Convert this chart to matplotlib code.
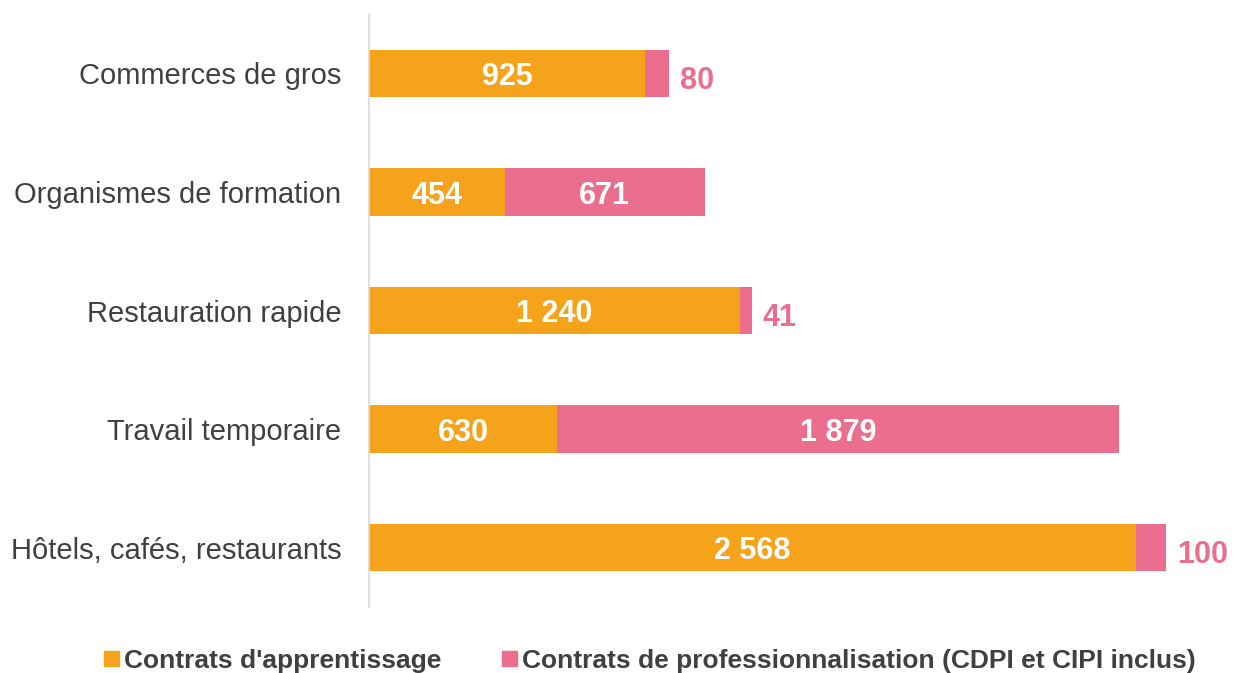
import matplotlib
matplotlib.use("Agg")
import matplotlib.pyplot as plt
from matplotlib.patches import Patch

plt.rcParams['font.family'] = ['Liberation Sans', 'DejaVu Sans']

# données (du bas vers le haut)
categories = ["Hôtels, cafés, restaurants", "Travail temporaire", "Restauration rapide",
              "Organismes de formation", "Commerces de gros"]
apprentissage = [2568, 630, 1240, 454, 925]
professionnalisation = [100, 1879, 41, 671, 80]
labels_app = ["2 568", "630", "1 240", "454", "925"]
labels_pro = ["100", "1 879", "41", "671", "80"]
series_names = ["Contrats d'apprentissage",
                "Contrats de professionnalisation (CDPI et CIPI inclus)"]

orange = "#F5A31A"
rose = "#EC6E8F"

fig = plt.figure(figsize=(12.38, 6.73), dpi=100)
ax = fig.add_axes([0.298, 0.098, 0.688, 0.881])

y = range(len(categories))
ax.barh(y, apprentissage, height=0.4, color=orange)
ax.barh(y, professionnalisation, height=0.4, left=apprentissage, color=rose)

for i in y:
    a = apprentissage[i]
    p = professionnalisation[i]
    ax.text(a / 2, i, labels_app[i], ha="center", va="center_baseline",
            color="white", fontsize=22, fontweight="bold")
    if p > 300:
        ax.text(a + p / 2, i, labels_pro[i], ha="center", va="center_baseline",
                color="white", fontsize=22, fontweight="bold")
    else:
        ax.annotate(labels_pro[i], (a + p, i), xytext=(8, -3), textcoords="offset points",
                    ha="left", va="center_baseline", color=rose, fontsize=22,
                    fontweight="bold")

ax.set_xlim(0, 2850)
ax.set_ylim(-0.5, 4.5)
ax.set_yticks(list(y))
ax.set_yticklabels(categories, fontsize=21, color="#404040")
ax.tick_params(axis="y", length=0, pad=20)
ax.set_xticks([])
for s in ["top", "right", "bottom"]:
    ax.spines[s].set_visible(False)
ax.spines["left"].set_color("#d9d9d9")
ax.spines["left"].set_linewidth(1.2)

handles = [Patch(color=orange), Patch(color=rose)]
leg = fig.legend(handles, series_names, loc="lower center", bbox_to_anchor=(0.525, -0.035),
                 ncol=2, frameon=False, handlelength=0.55, handleheight=0.55,
                 handletextpad=0.2, columnspacing=2.3,
                 prop={"size": 19, "weight": "bold"})
for t in leg.get_texts():
    t.set_color("#404040")

fig.savefig("out.png", dpi=100)
